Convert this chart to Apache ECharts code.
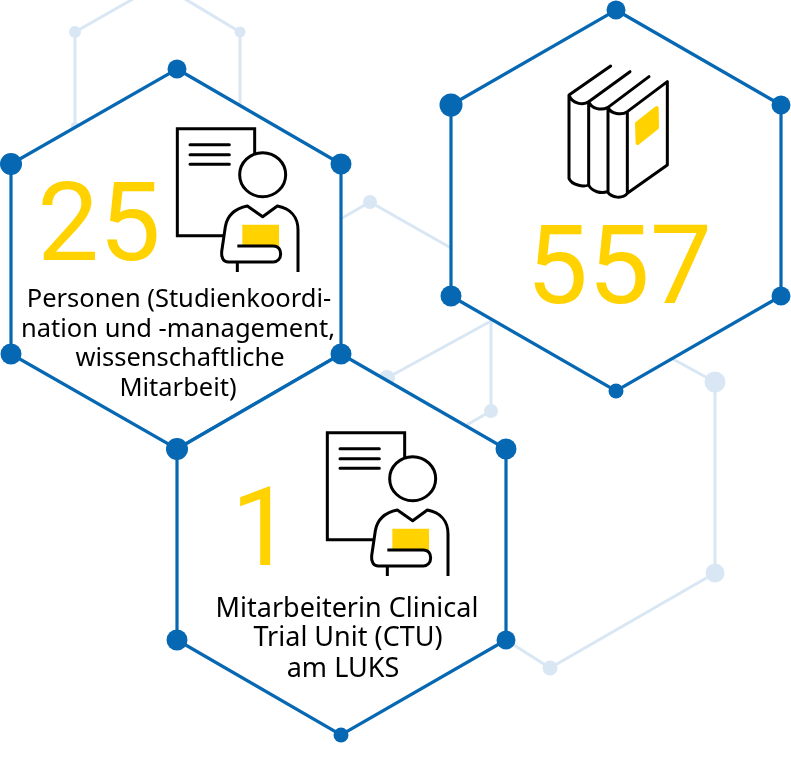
<!DOCTYPE html>
<html>
<head>
<meta charset="utf-8">
<style>
  html, body { margin: 0; padding: 0; background: #fff; }
  #chart { width: 791px; height: 761px; }
</style>
<script src="https://cdn.jsdelivr.net/npm/echarts@6/dist/echarts.min.js"></script>
</head>
<body>
<div id="chart"></div>
<script>
// Hexagon corners
const hexLeft = [[177, 69], [341, 164], [341, 354], [177, 449], [11, 354], [11, 164]];
const hexRight = [[616, 10], [781, 105], [781, 296], [616, 391], [451, 296], [451, 105]];
const hexBottom = [[341, 354], [506, 449], [506, 640], [341, 735], [177, 640], [177, 449]];

// Pale network behind the hexagons
const paleTop = [[133, -1], [75, 32], [75, 125]];
const paleTop2 = [[185, -1], [240, 32], [240, 120]];
const paleMiddle = [[451, 248], [370, 202], [330, 225]];
const paleCentre = [[387, 378], [491, 321], [491, 411], [465, 426]];
const paleRight = [[660, 352], [715, 382], [715, 573], [550, 668], [506, 640]];
const paleNodes = [[75, 32], [240, 32], [75, 126], [370, 202], [387, 378], [491, 411], [715, 382], [715, 573], [550, 668]];

// Icons
const personIcons = [[160, 110], [310, 414]];
const bookIcons = [[550, 50]];

// Texts
const bigNumbers = ['25', '557', '1'];
const bigNumberAt = [[99, 232], [619, 275], [262, 537]];
const captionLeft = ['Personen (Studienkoordi-', 'nation und -management,', 'wissenschaftliche', 'Mitarbeit)'];
const captionLeftAt = [[179, 300], [178, 330], [180, 359], [178, 389]];
const captionBottom = ['Mitarbeiterin Clinical', 'Trial Unit (CTU)', 'am LUKS'];
const captionBottomAt = [[347, 609], [348, 638], [343, 669]];

const BLUE = '#0668b3';
const PALE = '#d8e7f3';
const YELLOW = '#ffd200';
const INK = '#000000';
const FONT = '"Noto Sans", sans-serif';

// node diameters, same order as the lists they go with
const paleSizes = [12, 11, 8, 14, 16, 14, 21, 19, 15];
const blueSizes = [19, 21, 21, 22, 21, 22, 19, 19, 19, 15, 21, 23, 21, 19, 15, 21];

const chart = echarts.init(document.getElementById('chart'), null, { renderer: 'canvas' });

function paleLine(points) {
  return {
    type: 'line', data: points, z: 1, silent: true, symbol: 'none',
    lineStyle: { color: PALE, width: 3 }, clip: false
  };
}

function renderHex(params, api) {
  const hexes = [hexLeft, hexRight, hexBottom];
  return {
    type: 'polygon',
    shape: { points: hexes[params.dataIndex].map(p => api.coord(p)) },
    style: { fill: '#fff', stroke: BLUE, lineWidth: 3.2 }
  };
}

// icon paths are 3x their drawn size, hence the scale and the thick strokes
function renderPerson(params, api) {
  const at = api.coord([api.value(0), api.value(1)]);
  const line = { fill: null, stroke: INK, lineWidth: 9, lineJoin: 'round' };
  return {
    type: 'group', x: at[0], y: at[1], scaleX: 1 / 3, scaleY: 1 / 3,
    children: [
      { type: 'rect', shape: { x: 247, y: 344, width: 110, height: 66 }, style: { fill: YELLOW } },
      { type: 'path', shape: { pathData: 'M284 133V56H52V377H192' }, style: { fill: null, stroke: INK, lineWidth: 9 } },
      { type: 'path', shape: { pathData: 'M90 104H208M90 134H208M90 163H208' }, style: { ...line, lineCap: 'round' } },
      { type: 'ellipse', shape: { cx: 308, cy: 194, rx: 69, ry: 66 }, style: line },
      {
        type: 'path',
        shape: { pathData: 'M232 408H340C356 408 362 420 362 432C362 446 352 456 340 456H205C190 456 183 442 185 425L196 350C202 315 228 295 262 288L308 320L352 288C390 295 414 320 414 360V486M232 456V486' },
        style: line
      }
    ]
  };
}

function renderBook(params, api) {
  const at = api.coord([api.value(0), api.value(1)]);
  const line = { fill: null, stroke: INK, lineWidth: 9, lineJoin: 'round', lineCap: 'round' };
  return {
    type: 'group', x: at[0], y: at[1], scaleX: 1 / 3, scaleY: 1 / 3,
    children: [
      {
        type: 'path',
        shape: { pathData: 'M261 221L320 174L321 232L263 279Z' },
        style: { fill: YELLOW, stroke: YELLOW, lineWidth: 12, lineJoin: 'round' }
      },
      {
        type: 'path',
        shape: { pathData: 'M182 48L57 135C65 160 100 168 116 155L240 65M116 155C125 178 155 182 174 172L297 80M174 172C182 192 215 197 232 185L352 95V345L232 430C218 447 185 445 172 425C155 432 125 425 116 405C100 412 65 405 57 385V135M116 155V405M174 172V425M232 185V430' },
        style: line
      }
    ]
  };
}

function renderText(list, fontSize, color, family) {
  return function (params, api) {
    const at = api.coord([api.value(0), api.value(1)]);
    return {
      type: 'text', x: at[0], y: at[1],
      style: {
        text: list[params.dataIndex], fontSize: fontSize, fontFamily: family,
        fill: color, align: 'center', verticalAlign: 'middle'
      }
    };
  };
}

chart.setOption({
  animation: false,
  backgroundColor: '#fff',
  grid: { left: 0, right: 0, top: 0, bottom: 0 },
  xAxis: { type: 'value', min: 0, max: 791, show: false },
  yAxis: { type: 'value', min: 0, max: 761, inverse: true, show: false },
  series: [
    paleLine(paleTop), paleLine(paleTop2), paleLine(paleMiddle), paleLine(paleCentre), paleLine(paleRight),
    {
      type: 'scatter', data: paleNodes, z: 2, silent: true,
      symbolSize: (v, p) => paleSizes[p.dataIndex], itemStyle: { color: PALE, opacity: 1 }
    },
    { type: 'custom', data: [hexLeft[0], hexRight[0], hexBottom[0]], renderItem: renderHex, z: 3, silent: true, clip: false },
    {
      type: 'scatter', data: [...hexLeft, ...hexRight, ...hexBottom.slice(1, 5)], z: 4, silent: true, clip: false,
      symbolSize: (v, p) => blueSizes[p.dataIndex], itemStyle: { color: BLUE, opacity: 1 }
    },
    { type: 'custom', data: personIcons, renderItem: renderPerson, z: 5, silent: true, clip: false },
    { type: 'custom', data: bookIcons, renderItem: renderBook, z: 5, silent: true, clip: false },
    { type: 'custom', data: bigNumberAt, renderItem: renderText(bigNumbers, 110, YELLOW, 'Roboto, sans-serif'), z: 6, silent: true, clip: false },
    { type: 'custom', data: captionLeftAt, renderItem: renderText(captionLeft, 25.5, INK, FONT), z: 6, silent: true, clip: false },
    { type: 'custom', data: captionBottomAt, renderItem: renderText(captionBottom, 27, INK, FONT), z: 6, silent: true, clip: false }
  ]
});
</script>
</body>
</html>
